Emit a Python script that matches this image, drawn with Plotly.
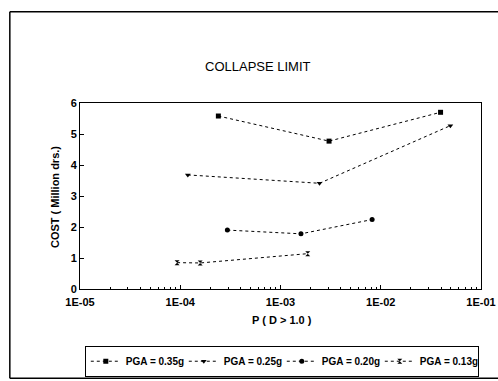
import plotly.graph_objects as go

# Data
series_names = ["PGA = 0.35g", "PGA = 0.25g", "PGA = 0.20g", "PGA = 0.13g"]
p_035 = [2.4e-4, 3.05e-3, 3.95e-2]
c_035 = [5.58, 4.77, 5.70]
p_025 = [1.19e-4, 2.45e-3, 4.95e-2]
c_025 = [3.68, 3.41, 5.27]
p_020 = [2.95e-4, 1.6e-3, 8.2e-3]
c_020 = [1.90, 1.78, 2.24]
p_013 = [9.3e-5, 1.58e-4, 1.87e-3]
c_013 = [0.85, 0.84, 1.14]
markers = ["square", "triangle-down", "circle", "hourglass"]

x_tickvals = [1e-5, 1e-4, 1e-3, 1e-2, 1e-1]
x_ticktext = ["1E-05", "1E-04", "1E-03", "1E-02", "1E-01"]
y_tickvals = [0, 1, 2, 3, 4, 5, 6]

FONT = "Liberation Sans, Arial, sans-serif"

fig = go.Figure()
for name, xs, ys, m in zip(series_names, [p_035, p_025, p_020, p_013],
                           [c_035, c_025, c_020, c_013], markers):
    fig.add_trace(go.Scatter(
        x=xs, y=ys, name=name, mode="lines+markers",
        line=dict(color="black", width=1, dash="dot"),
        marker=dict(symbol=m, size=5, color="black"),
    ))

minor_vals = [k * d for d in x_tickvals[:-1] for k in range(2, 10)]

fig.update_layout(
    width=498, height=381,
    margin=dict(l=80, r=17, t=103, b=92, autoexpand=False),
    paper_bgcolor="white", plot_bgcolor="white",
    font=dict(family=FONT, color="black", size=11),
    showlegend=True,
    legend=dict(orientation="h", x=0.012, y=-0.305, xanchor="left", yanchor="top",
                bordercolor="black", borderwidth=1, bgcolor="white",
                font=dict(family=FONT, size=10, weight="bold"),
                itemwidth=30, tracegroupgap=0, entrywidth=53, entrywidthmode="pixels"),
    xaxis=dict(type="log", range=[-5, -1], tickvals=x_tickvals, ticktext=x_ticktext,
               ticks="inside", ticklen=4, tickcolor="black", showgrid=False, automargin=False,
               zeroline=False, showline=True, linecolor="black", linewidth=1, mirror=True,
               ticklabelstandoff=3,
               tickfont=dict(family=FONT, size=11, weight="bold"),
               minor=dict(tickvals=minor_vals, ticks="inside", ticklen=2, tickcolor="black",
                          showgrid=False)),
    yaxis=dict(range=[0, 6], tickvals=y_tickvals, ticks="inside", ticklen=4, automargin=False,
               tickcolor="black", showgrid=False, zeroline=False, showline=True,
               linecolor="black", linewidth=1, mirror=True,
               tickfont=dict(family=FONT, size=11, weight="bold")),
    annotations=[
        dict(text="COLLAPSE LIMIT", x=0.444, y=1.195, xref="paper", yref="paper",
             xanchor="center", yanchor="middle",
             showarrow=False, font=dict(family=FONT, size=13)),
        dict(text="P ( D > 1.0 )", x=0.504, y=-0.167, xref="paper", yref="paper",
             xanchor="center", yanchor="middle",
             showarrow=False, font=dict(family=FONT, size=11, weight="bold")),
        dict(text="COST ( Million drs.)", x=-0.062, y=0.495, xref="paper", yref="paper",
             xanchor="center", yanchor="middle",
             showarrow=False, textangle=-90, font=dict(family=FONT, size=11, weight="bold")),
    ],
    shapes=[
        dict(type="line", xref="paper", yref="paper", x0=-0.175, x1=-0.175, y0=-0.48, y1=1.49,
             line=dict(color="black", width=1.5)),
        dict(type="line", xref="paper", yref="paper", x0=-0.175, x1=1.05, y0=1.49, y1=1.49,
             line=dict(color="black", width=1.5)),
        dict(type="line", xref="paper", yref="paper", x0=-0.175, x1=1.05, y0=-0.48, y1=-0.48,
             line=dict(color="black", width=1.5)),
    ],
)

fig.write_html("out.html")
